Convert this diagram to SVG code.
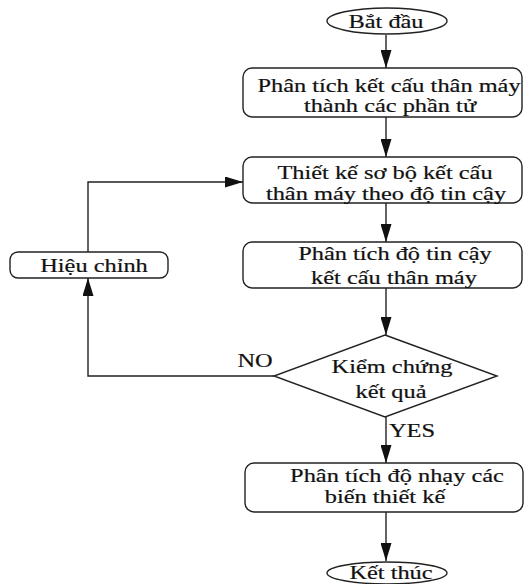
<svg xmlns="http://www.w3.org/2000/svg" width="524" height="584" viewBox="0 0 524 584">
<defs>
<marker id="arr" markerUnits="userSpaceOnUse" markerWidth="18" markerHeight="11" refX="18" refY="5.5" orient="auto">
<path d="M0,0 L18,5.5 L0,11 z" fill="#111"/>
</marker>
<style>
.sh{fill:#fff;stroke:#222;stroke-width:1.4}
.ln{fill:none;stroke:#222;stroke-width:1.4}
.t{font-family:"Liberation Serif","Times New Roman",serif;font-size:19.5px;fill:#111;stroke:#111;stroke-width:0.2;text-anchor:middle}
</style>
</defs>
<rect width="524" height="584" fill="#fff"/>
<g id="connectors">
<path class="ln" d="M386,35 V68" marker-end="url(#arr)"/>
<path class="ln" d="M386,117 V157" marker-end="url(#arr)"/>
<path class="ln" d="M386,203 V242" marker-end="url(#arr)"/>
<path class="ln" d="M386,288 V335" marker-end="url(#arr)"/>
<path class="ln" d="M386,417 V463" marker-end="url(#arr)"/>
<path class="ln" d="M386,512 V561" marker-end="url(#arr)"/>
<path class="ln" d="M274,376 H88 V278" marker-end="url(#arr)"/>
<path class="ln" d="M88,252 V182 H243" marker-end="url(#arr)"/>
<text class="t" transform="translate(255,367) scale(1.25,1)">NO</text>
<text class="t" transform="translate(412,437) scale(1.25,1)">YES</text>
</g>
<g id="start">
<ellipse class="sh" cx="387" cy="21" rx="60" ry="13"/>
<text class="t" transform="translate(386,28) scale(1.25,1)">Bắt đầu</text>
</g>
<g id="step1">
<rect class="sh" x="243" y="68" width="279" height="49" rx="9"/>
<text class="t" transform="translate(389,92) scale(1.25,1)">Phân tích kết cấu thân máy</text>
<text class="t" transform="translate(390,112) scale(1.25,1)">thành các phần tử</text>
</g>
<g id="step2">
<rect class="sh" x="243" y="157" width="279" height="46" rx="9"/>
<text class="t" transform="translate(385,179) scale(1.25,1)">Thiết kế sơ bộ kết cấu</text>
<text class="t" transform="translate(386,200) scale(1.25,1)">thân máy theo độ tin cậy</text>
</g>
<g id="step3">
<rect class="sh" x="243" y="242" width="279" height="46" rx="9"/>
<text class="t" transform="translate(395,260) scale(1.25,1)">Phân tích độ tin cậy</text>
<text class="t" transform="translate(394,284) scale(1.25,1)">kết cấu thân máy</text>
</g>
<g id="adjust">
<rect class="sh" x="10" y="252" width="158" height="26" rx="8"/>
<text class="t" transform="translate(94,272) scale(1.25,1)">Hiệu chỉnh</text>
</g>
<g id="check">
<polygon class="sh" points="385,335 497,376 385,417 274,376"/>
<text class="t" transform="translate(392,373) scale(1.25,1)">Kiểm chứng</text>
<text class="t" transform="translate(391,398) scale(1.25,1)">kết quả</text>
</g>
<g id="step4">
<rect class="sh" x="245" y="463" width="278" height="49" rx="9"/>
<text class="t" transform="translate(397,482) scale(1.25,1)">Phân tích độ nhạy các</text>
<text class="t" transform="translate(385,503) scale(1.25,1)">biến thiết kế</text>
</g>
<g id="end">
<ellipse class="sh" cx="387" cy="573" rx="60" ry="11"/>
<text class="t" transform="translate(391,579) scale(1.25,1)">Kết thúc</text>
</g>
</svg>
